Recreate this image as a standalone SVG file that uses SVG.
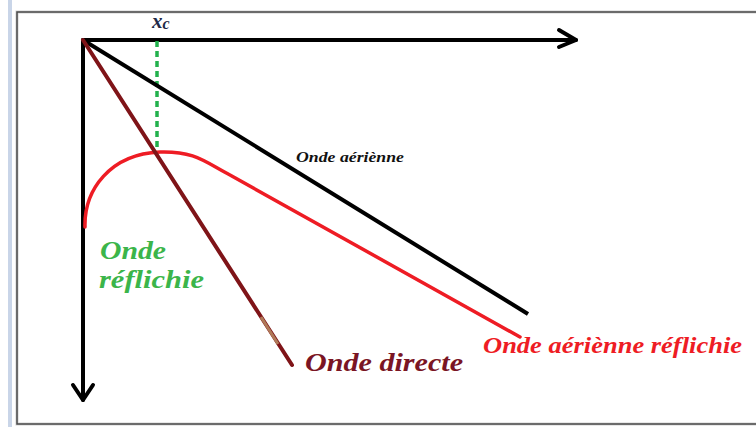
<svg xmlns="http://www.w3.org/2000/svg" width="756" height="427" viewBox="0 0 756 427">
<style>
.lbl{font-family:'Liberation Serif','Times New Roman','DejaVu Serif',serif;font-weight:bold;font-style:italic}
.ax{stroke:#000;stroke-width:4;fill:none;stroke-linecap:round;stroke-linejoin:round}
</style>
<rect x="0" y="0" width="756" height="427" fill="#fff"/>
<rect x="8" y="0" width="4" height="427" fill="#c9d5e8"/>
<rect x="17" y="12" width="745" height="412" fill="#fff" stroke="#d0d0d0" stroke-width="3"/>
<rect x="17" y="12" width="745" height="412" fill="none" stroke="#4a4a4a" stroke-width="1.5"/>
<g id="axes">
<line class="ax" x1="83" y1="40" x2="576" y2="40"/>
<polyline class="ax" points="559,30 576,40 559,47"/>
<line class="ax" x1="83" y1="40" x2="83" y2="400"/>
<polyline class="ax" points="73,385 83,400 93,385"/>
</g>
<g id="xc-marker">
<line x1="157" y1="41" x2="157" y2="153" stroke="#22b14c" stroke-width="3.5" stroke-dasharray="6,4"/>
<text class="lbl" x="152" y="28" font-size="21" fill="#1e2a48">x<tspan font-size="16" dy="1">c</tspan></text>
</g>
<g id="rays">
<line id="onde-aerienne-line" x1="83" y1="40" x2="528" y2="314" stroke="#000" stroke-width="4"/>
<path id="onde-reflechie-curve" d="M85,227 C84,190 110,154 160,152 C195,151 205,162 230,175 L520,337" fill="none" stroke="#ee1c24" stroke-width="3.5" stroke-linecap="round"/>
<line id="onde-directe-line" x1="83" y1="40" x2="292" y2="365" stroke="#7f1418" stroke-width="4" stroke-linecap="round"/>
<line x1="261" y1="317" x2="278" y2="344" stroke="#b07a58" stroke-width="3"/>
</g>
<g id="labels">
<text class="lbl" x="296" y="162" font-size="15" fill="#111" textLength="108" lengthAdjust="spacingAndGlyphs">Onde aériènne</text>
<text class="lbl" x="100" y="259" font-size="26" fill="#3bb54a" textLength="66" lengthAdjust="spacingAndGlyphs">Onde</text>
<text class="lbl" x="99" y="288" font-size="26" fill="#3bb54a" textLength="105" lengthAdjust="spacingAndGlyphs">réflichie</text>
<text class="lbl" x="305" y="371" font-size="26" fill="#7a1524" textLength="158" lengthAdjust="spacingAndGlyphs">Onde directe</text>
<text class="lbl" x="483" y="353" font-size="23" fill="#ee1c24" textLength="259" lengthAdjust="spacingAndGlyphs">Onde aériènne réflichie</text>
</g>
</svg>
